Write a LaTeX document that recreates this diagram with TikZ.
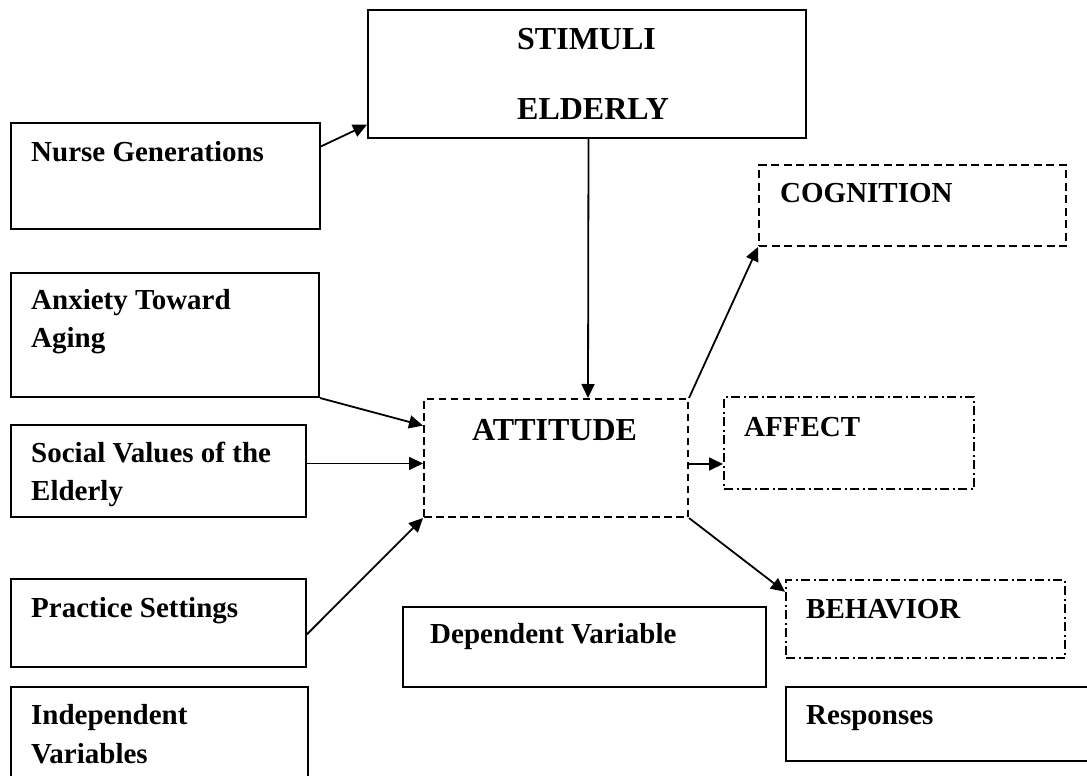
\documentclass[tikz,border=0pt]{standalone}
\usepackage{fontspec}
\setmainfont{Liberation Serif}
\usetikzlibrary{arrows.meta,calc}
\tikzset{
  box/.style={draw, rectangle, line width=2pt, inner sep=0pt, anchor=north west},
  dbox/.style={box, dash pattern=on 7.5pt off 4.5pt},
  ddbox/.style={box, dash pattern=on 9pt off 3.5pt on 2pt off 3.5pt},
  txt/.style={anchor=base west, inner sep=0pt, font=\fontsize{29}{38}\selectfont\bfseries},
  bigtxt/.style={anchor=base west, inner sep=0pt, font=\fontsize{32}{40}\selectfont\bfseries},
  arr/.style={line width=1.8pt, -{Triangle[length=14pt,width=13pt]}},
}
\begin{document}
\begin{tikzpicture}[x=1pt,y=-1pt]
\useasboundingbox (0,0) rectangle (1087,776);
\clip (0,0) rectangle (1087,776);
% boxes
\node[box, minimum width=438pt, minimum height=128pt] (stim) at (367,9) {};
\node[box, minimum width=309pt, minimum height=106pt] (nurse) at (10,122) {};
\node[box, minimum width=308pt, minimum height=124pt] (anx) at (10,272) {};
\node[box, minimum width=295pt, minimum height=92pt] (soc) at (10,424) {};
\node[box, minimum width=295pt, minimum height=88pt] (prac) at (10,578) {};
\node[box, minimum width=297pt, minimum height=95pt] (indep) at (10,686) {};
\node[dbox, minimum width=264pt, minimum height=118pt] (att) at (423,398) {};
\node[box, dash pattern=on 8pt off 4.5pt, minimum width=307pt, minimum height=81pt] (cog) at (758,164) {};
\node[ddbox, minimum width=250pt, minimum height=92pt] (aff) at (723,396) {};
\node[ddbox, minimum width=279pt, minimum height=78pt] (beh) at (785,579) {};
\node[box, minimum width=363pt, minimum height=80pt] (dep) at (402,606) {};
\node[box, minimum width=310pt, minimum height=74pt] (resp) at (785,686) {};
% texts
\node[bigtxt] (t1) at (517,50) {STIMULI};
\node[bigtxt] (t2) at (517,119) {ELDERLY};
\node[txt] (t3) at (31,161) {Nurse Generations};
\node[txt] (t4) at (31,309) {Anxiety Toward};
\node[txt] (t5) at (31,347) {Aging};
\node[txt] (t6) at (31,462) {Social Values of the};
\node[txt] (t7) at (31,500) {Elderly};
\node[txt] (t8) at (31,617) {Practice Settings};
\node[txt] (t9) at (31,724) {Independent};
\node[txt] (t10) at (31,763) {Variables};
\node[bigtxt] (t11) at (472,440) {ATTITUDE};
\node[txt] (t12) at (780,202) {COGNITION};
\node[txt] (t13) at (744,436) {AFFECT};
\node[txt] (t14) at (806,618) {BEHAVIOR};
\node[txt] (t15) at (430,643) {Dependent Variable};
\node[txt] (t16) at (806,724) {Responses};
% connectors
\draw[arr] ($(nurse.north east)!0.226!(nurse.south east)$) -- ($(stim.north west)!0.89!(stim.south west)$);
\draw[arr] ($(stim.south)+(1.5,0)$) -- ($(stim.south |- att.north)+(1,0)$);
\draw[arr] (anx.south east) -- ($(att.north west)!0.23!(att.south west)$);
\draw[arr] ($(soc.north east)!0.42!(soc.south east)$) coordinate (s1) -- (s1 -| att.west);
\draw[arr] ($(prac.north east)!0.625!(prac.south east)$) -- (att.south west);
\draw[arr] (att.north east) -- (cog.south west);
\draw[arr] ($(att.north east)!0.55!(att.south east)$) coordinate (a1) -- (a1 -| aff.west);
\draw[arr] (att.south east) -- ($(beh.north west)!0.16!(beh.south west)$);
\end{tikzpicture}
\end{document}
